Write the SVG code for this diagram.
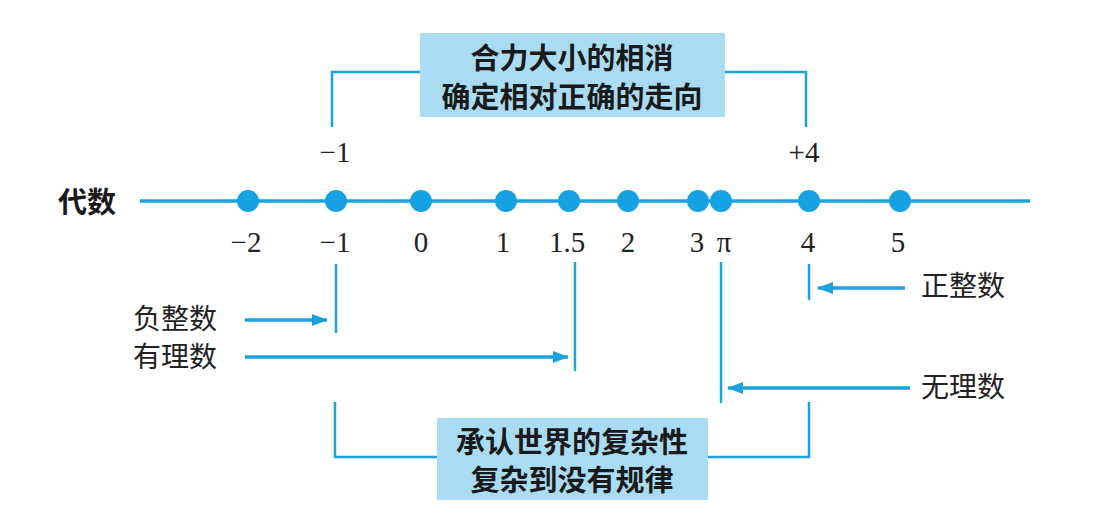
<svg xmlns="http://www.w3.org/2000/svg" width="1100" height="511" viewBox="0 0 1100 511">
<defs>
<style>
.ln{stroke:#1ca3de;fill:none}
.br{stroke-width:2.5}
.ax{stroke-width:3.5}
.ar{stroke-width:3.5}
.dot{fill:#16a2e2}
.box{fill:#a9dcf3}
.num{font-family:"Liberation Serif","Times New Roman",serif;font-size:29px;fill:#222;text-anchor:middle}
.cj{font-family:"Noto Sans CJK SC",sans-serif;font-size:28px;fill:#222}
.bt{font-family:"Noto Sans CJK SC",sans-serif;font-size:29px;font-weight:700;fill:#1a1a1a;text-anchor:middle}
</style>
<marker id="ah" viewBox="0 0 16 12" refX="15" refY="6" markerWidth="16" markerHeight="12" markerUnits="userSpaceOnUse" orient="auto">
<path d="M0,0 L16,6 L0,12 Z" fill="#1ca3de"/>
</marker>
</defs>
<g id="connectors">
<polyline class="ln br" points="332,127 332,72 425,72"/>
<polyline class="ln br" points="720,72 806,72 806,127"/>
<line class="ln ax" x1="140" y1="201" x2="1030" y2="201"/>
<line class="ln br" x1="336" y1="264" x2="336" y2="333"/>
<line class="ln br" x1="575" y1="262" x2="575" y2="371"/>
<line class="ln br" x1="809" y1="264" x2="809" y2="300"/>
<line class="ln br" x1="721" y1="262" x2="721" y2="403"/>
<line class="ln ar" x1="245" y1="320" x2="327" y2="320" marker-end="url(#ah)"/>
<line class="ln ar" x1="245" y1="357" x2="568" y2="357" marker-end="url(#ah)"/>
<line class="ln ar" x1="905" y1="288" x2="818" y2="288" marker-end="url(#ah)"/>
<line class="ln ar" x1="910" y1="388" x2="728" y2="388" marker-end="url(#ah)"/>
<polyline class="ln br" points="335,402 335,457 440,457"/>
<polyline class="ln br" points="705,457 809,457 809,402"/>
</g>
<g id="top-box">
<rect class="box" x="420" y="33" width="305" height="84"/>
<text class="bt" x="572" y="69">合力大小的相消</text>
<text class="bt" x="572" y="108">确定相对正确的走向</text>
</g>
<g id="top-labels">
<text class="num" x="335" y="162">−1</text>
<text class="num" x="804" y="162">+4</text>
</g>
<g id="axis-label">
<text class="bt" x="87" y="213">代数</text>
</g>
<g id="dots">
<circle class="dot" cx="248" cy="201" r="11"/>
<circle class="dot" cx="336" cy="201" r="11"/>
<circle class="dot" cx="421" cy="201" r="11"/>
<circle class="dot" cx="506" cy="201" r="11"/>
<circle class="dot" cx="569" cy="201" r="11"/>
<circle class="dot" cx="628" cy="201" r="11"/>
<circle class="dot" cx="698" cy="201" r="11"/>
<circle class="dot" cx="721" cy="201" r="11"/>
<circle class="dot" cx="809" cy="201" r="11"/>
<circle class="dot" cx="900" cy="201" r="11"/>
</g>
<g id="numbers">
<text class="num" x="246" y="252">−2</text>
<text class="num" x="335" y="252">−1</text>
<text class="num" x="421" y="252">0</text>
<text class="num" x="503" y="252">1</text>
<text class="num" x="567" y="252">1.5</text>
<text class="num" x="628" y="252">2</text>
<text class="num" x="697" y="252">3</text>
<text class="num" x="724" y="252">π</text>
<text class="num" x="808" y="252">4</text>
<text class="num" x="898" y="252">5</text>
</g>
<g id="neg-int"><text class="cj" x="133" y="329">负整数</text></g>
<g id="rational"><text class="cj" x="133" y="367">有理数</text></g>
<g id="pos-int"><text class="cj" x="921" y="296">正整数</text></g>
<g id="irrational"><text class="cj" x="921" y="397">无理数</text></g>
<g id="bottom-box">
<rect class="box" x="437" y="418" width="271" height="82"/>
<text class="bt" x="572" y="453">承认世界的复杂性</text>
<text class="bt" x="572" y="491">复杂到没有规律</text>
</g>
</svg>
